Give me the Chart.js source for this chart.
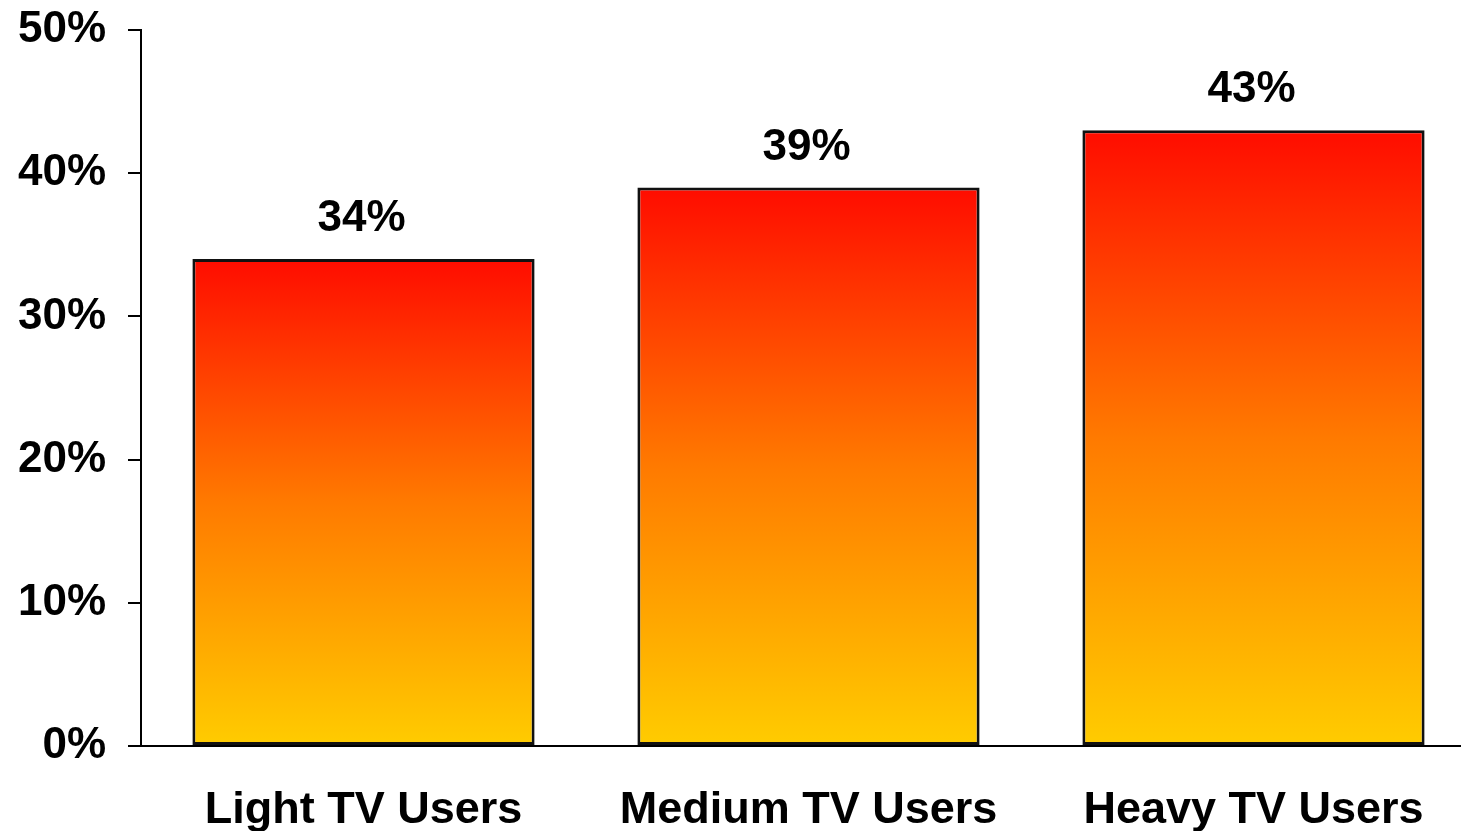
<!DOCTYPE html>
<html>
<head>
<meta charset="utf-8">
<script src="https://cdn.jsdelivr.net/npm/chart.js@4.4.1/dist/chart.umd.min.js"></script>
<style>
html,body{margin:0;padding:0;background:#fff;overflow:hidden;}
#wrap{width:1476px;height:831px;}
</style>
</head>
<body>
<div id="wrap"><canvas id="c" width="1476" height="831"></canvas></div>
<script>
const categories = ["Light TV Users", "Medium TV Users", "Heavy TV Users"];
const values = [34, 39, 43];
const yTicks = [0, 10, 20, 30, 40, 50];

const FONT = '"Liberation Sans", Arial, Helvetica, sans-serif';

function barGradient(context) {
  const chart = context.chart;
  if (!chart.chartArea || context.type !== 'data') return '#FF8000';
  const y = chart.scales.y;
  const top = y.getPixelForValue(context.parsed ? context.parsed.y : values[context.dataIndex]);
  const bottom = y.getPixelForValue(0);
  const g = chart.ctx.createLinearGradient(0, top, 0, bottom);
  g.addColorStop(0, '#FF0C00');
  g.addColorStop(0.5, '#FF7A00');
  g.addColorStop(1, '#FFCC00');
  return g;
}

const valueLabels = {
  id: 'valueLabels',
  afterDatasetsDraw(chart) {
    const ctx = chart.ctx;
    const meta = chart.getDatasetMeta(0);
    ctx.save();
    ctx.font = 'bold 44px ' + FONT;
    ctx.fillStyle = '#000';
    ctx.textAlign = 'center';
    ctx.textBaseline = 'alphabetic';
    meta.data.forEach((bar, i) => {
      ctx.fillText(values[i] + '%', bar.x - 2, bar.y - 28);
    });
    ctx.restore();
  }
};

new Chart(document.getElementById('c'), {
  type: 'bar',
  data: {
    labels: categories,
    datasets: [{
      data: values,
      backgroundColor: barGradient,
      borderColor: '#111',
      borderWidth: 3,
      borderSkipped: false,
      categoryPercentage: 1,
      barPercentage: 0.769
    }]
  },
  options: {
    responsive: false,
    animation: false,
    layout: { padding: { top: 30, left: 0, right: 0, bottom: 0 } },
    plugins: { legend: { display: false }, tooltip: { enabled: false } },
    scales: {
      x: {
        offset: true,
        grid: { display: false, drawTicks: false },
        border: { display: true, color: '#000', width: 2 },
        ticks: {
          color: '#000',
          font: { family: FONT, size: 45, weight: 'bold' },
          padding: 38,
          maxRotation: 0,
          autoSkip: false
        },
        afterFit(scale) { scale.height = 85; scale.paddingLeft = 0; scale.paddingRight = 0; }
      },
      y: {
        min: 0,
        max: 50,
        afterBuildTicks(scale) { scale.ticks = yTicks.map(v => ({ value: v })); },
        grid: { drawOnChartArea: false, drawTicks: true, tickLength: 13, color: '#000', lineWidth: 2 },
        border: { display: true, color: '#000', width: 2 },
        ticks: {
          color: '#000',
          font: { family: FONT, size: 44, weight: 'bold' },
          padding: 22,
          callback: v => v + '%'
        },
        afterFit(scale) { scale.width = 141; scale.paddingTop = 0; scale.paddingBottom = 0; }
      }
    }
  },
  plugins: [valueLabels]
});
</script>
</body>
</html>
